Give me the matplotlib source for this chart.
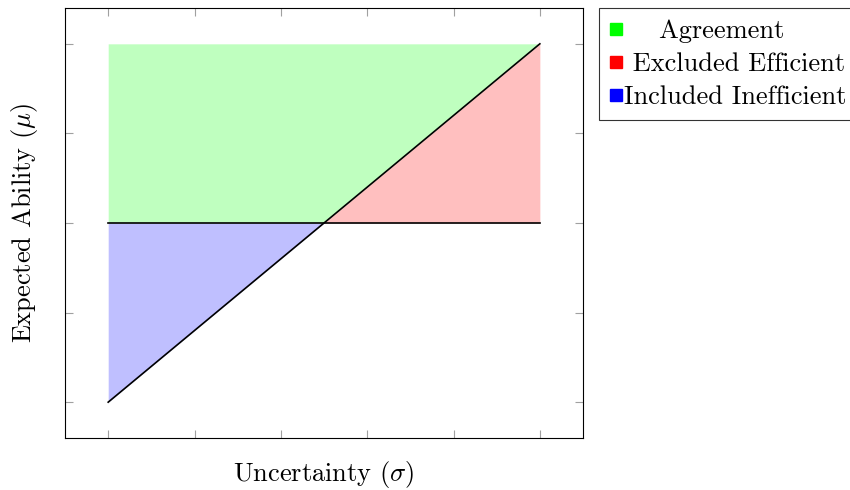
import numpy as np
import matplotlib as mpl
mpl.use('Agg')
import matplotlib.pyplot as plt
from matplotlib.lines import Line2D

plt.rcParams['font.family'] = ['cmr10', 'DejaVu Serif']
plt.rcParams['mathtext.fontset'] = 'cm'
plt.rcParams['axes.formatter.use_mathtext'] = True

## data
sigma = [0.0, 0.5, 1.0]
threshold = [0.0, 0.0, 0.0]
ucb = [-1.0, 0.0, 1.0]
top = [1.0, 1.0, 1.0]
x_ticks = [0.0, 0.2, 0.4, 0.6, 0.8, 1.0]
y_ticks = [-1.0, -0.5, 0.0, 0.5, 1.0]
labels = ['    Agreement', ' Excluded Efficient', 'Included Inefficient']

fig = plt.figure(figsize=(8.5, 4.9), dpi=100)
ax = fig.add_axes([0.0765, 0.1061, 0.6094, 0.8776])

s = np.array(sigma)
t = np.array(threshold)
u = np.array(ucb)
ax.fill_between(s, np.maximum(t, u), top, color='#bfffbf', lw=0)
ax.fill_between(s, t, u, where=u >= t, color='#ffbfbf', lw=0)
ax.fill_between(s, u, t, where=u <= t, color='#bfbfff', lw=0)
ax.plot(s, t, color='black', lw=1.2)
ax.plot(s, u, color='black', lw=1.2)

ax.set_xlim(-0.1, 1.1)
ax.set_ylim(-1.2, 1.2)
ax.set_xticks(x_ticks)
ax.set_yticks(y_ticks)
ax.tick_params(direction='in', length=6, color='#a0a0a0', width=0.8,
               top=True, right=True, labelbottom=False, labelleft=False)
for sp in ax.spines.values():
    sp.set_linewidth(0.8)

ax.set_xlabel(r'Uncertainty ($\sigma$)', fontsize=19, labelpad=15)
ax.set_ylabel(r'Expected Ability ($\mu$)', fontsize=19, labelpad=18)

handles = [Line2D([], [], ls='none', marker='s', markersize=8, color=c)
           for c in ['#00ff00', '#ff0000', '#0000ff']]
leg = ax.legend(handles, labels, loc='upper left', bbox_to_anchor=(1.031, 1.0),
                fontsize=19, frameon=True, fancybox=False, handlelength=0.45,
                handletextpad=0.08, borderaxespad=0, borderpad=0.42,
                labelspacing=0.35)
leg.get_frame().set_edgecolor('black')
leg.get_frame().set_linewidth(0.8)

fig.savefig('out.png', dpi=100)
